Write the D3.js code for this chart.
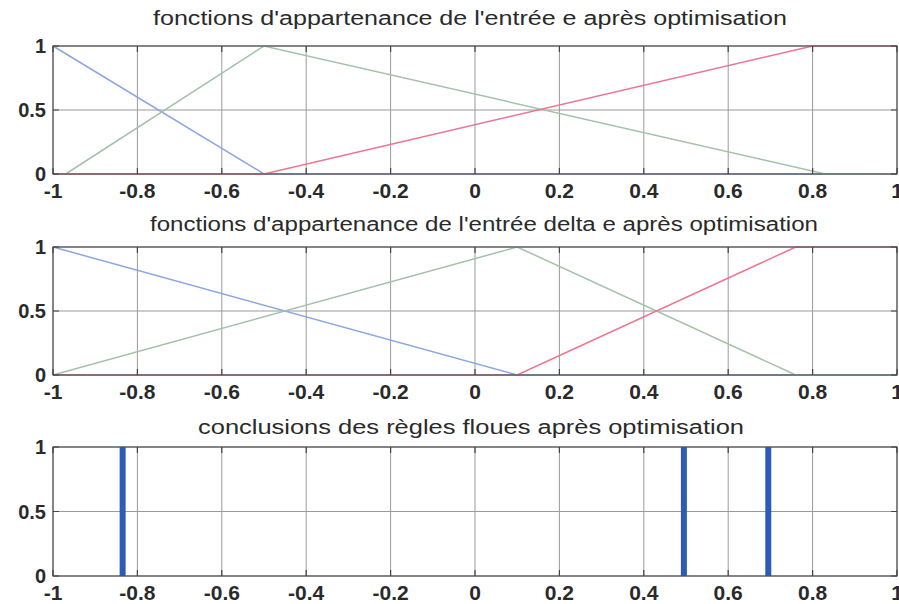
<!DOCTYPE html>
<html>
<head>
<meta charset="utf-8">
<script src="https://cdn.jsdelivr.net/npm/d3@7"></script>
<style>
  body { margin: 0; background: #fff; }
  svg text { font-family: "Liberation Sans", Arial, sans-serif; fill: #2a2a2a; }
</style>
</head>
<body>
<div id="chart"></div>
<script>
// Données
const xTicks = [-1, -0.8, -0.6, -0.4, -0.2, 0, 0.2, 0.4, 0.6, 0.8, 1];
const xTickLabels = ['-1', '-0.8', '-0.6', '-0.4', '-0.2', '0', '0.2', '0.4', '0.6', '0.8', '1'];
const yTicks = [0, 0.5, 1];
const yTickLabels = ['0', '0.5', '1'];

const titles = [
  "fonctions d'appartenance de l'entrée e après optimisation",
  "fonctions d'appartenance de l'entrée delta e après optimisation",
  'conclusions des règles floues après optimisation',
];

// entrée e
const eBlueX = [-1, -0.5, 1];
const eBlueY = [1, 0, 0];
const eGreenX = [-0.97, -0.5, 0.83, 1];
const eGreenY = [0, 1, 0, 0];
const eRedX = [-1, -0.5, 0.8, 1];
const eRedY = [0, 0, 1, 1];

// entrée delta e
const deBlueX = [-1, 0.1, 1];
const deBlueY = [1, 0, 0];
const deGreenX = [-1, 0.1, 0.76, 1];
const deGreenY = [0, 1, 0, 0];
const deRedX = [-1, 0.1, 0.76, 1];
const deRedY = [0, 0, 1, 1];

// conclusions (singletons)
const conclusions = [-0.835, 0.495, 0.695];

const colors = { blue: '#8aa6e2', green: '#a3c2aa', red: '#ec7590', bar: '#2c5cb8' };

const W = 899, H = 604;
const svg = d3.select('#chart').append('svg').attr('width', W).attr('height', H);

const x = d3.scaleLinear().domain([-1, 1]).range([53, 897]);

const panels = [
  { top: 46, bottom: 174, titleY: 25, titleX: 470, titleW: 634,
    series: [[eBlueX, eBlueY, colors.blue], [eGreenX, eGreenY, colors.green], [eRedX, eRedY, colors.red]] },
  { top: 247, bottom: 375, titleY: 231, titleX: 484, titleW: 668,
    series: [[deBlueX, deBlueY, colors.blue], [deGreenX, deGreenY, colors.green], [deRedX, deRedY, colors.red]] },
  { top: 447, bottom: 576, titleY: 434, titleX: 471, titleW: 546, bars: conclusions },
];

panels.forEach((p, i) => {
  const y = d3.scaleLinear().domain([0, 1]).range([p.bottom, p.top]);
  const g = svg.append('g');

  // grille
  g.selectAll('.gx').data(xTicks).enter().append('line')
    .attr('x1', d => x(d)).attr('x2', d => x(d))
    .attr('y1', p.top).attr('y2', p.bottom)
    .attr('stroke', '#9a9a9a').attr('stroke-width', 1);
  g.selectAll('.gy').data(yTicks).enter().append('line')
    .attr('x1', x(-1)).attr('x2', x(1))
    .attr('y1', d => y(d)).attr('y2', d => y(d))
    .attr('stroke', '#9a9a9a').attr('stroke-width', 1);

  // courbes
  if (p.series) {
    const line = d3.line().x(d => x(d[0])).y(d => y(d[1]));
    p.series.forEach(([xs, ys, c]) => {
      g.append('path')
        .datum(d3.zip(xs, ys))
        .attr('d', line)
        .attr('fill', 'none')
        .attr('stroke', c)
        .attr('stroke-width', 1.5);
    });
  }
  if (p.bars) {
    g.selectAll('.bar').data(p.bars).enter().append('line')
      .attr('x1', d => x(d)).attr('x2', d => x(d))
      .attr('y1', y(0)).attr('y2', y(1))
      .attr('stroke', colors.bar).attr('stroke-width', 6);
  }

  // cadre
  g.append('rect')
    .attr('x', x(-1)).attr('y', p.top)
    .attr('width', x(1) - x(-1)).attr('height', p.bottom - p.top)
    .attr('fill', 'none').attr('stroke', '#555').attr('stroke-width', 1.2);

  // graduations internes
  g.selectAll('.tx').data(xTicks).enter().append('path')
    .attr('d', d => `M${x(d)},${p.bottom}v-6M${x(d)},${p.top}v6`)
    .attr('stroke', '#444').attr('stroke-width', 1.2);
  g.selectAll('.ty').data(yTicks).enter().append('path')
    .attr('d', d => `M${x(-1)},${y(d)}h6M${x(1)},${y(d)}h-6`)
    .attr('stroke', '#444').attr('stroke-width', 1.2);

  // étiquettes
  g.selectAll('.lx').data(xTicks).enter().append('text')
    .attr('x', d => x(d)).attr('y', p.bottom + 24)
    .attr('text-anchor', 'middle')
    .style('font-size', '21px').style('font-weight', 'bold')
    .text((d, k) => xTickLabels[k]);
  g.selectAll('.ly').data(yTicks).enter().append('text')
    .attr('x', x(-1) - 7).attr('y', d => y(d) + 7)
    .attr('text-anchor', 'end')
    .style('font-size', '20px').style('font-weight', 'bold')
    .text((d, k) => yTickLabels[k]);

  // titre
  g.append('text')
    .attr('x', p.titleX).attr('y', p.titleY)
    .attr('text-anchor', 'middle')
    .attr('textLength', p.titleW)
    .attr('lengthAdjust', 'spacingAndGlyphs')
    .style('font-size', '20px')
    .text(titles[i]);
});
</script>
</body>
</html>
